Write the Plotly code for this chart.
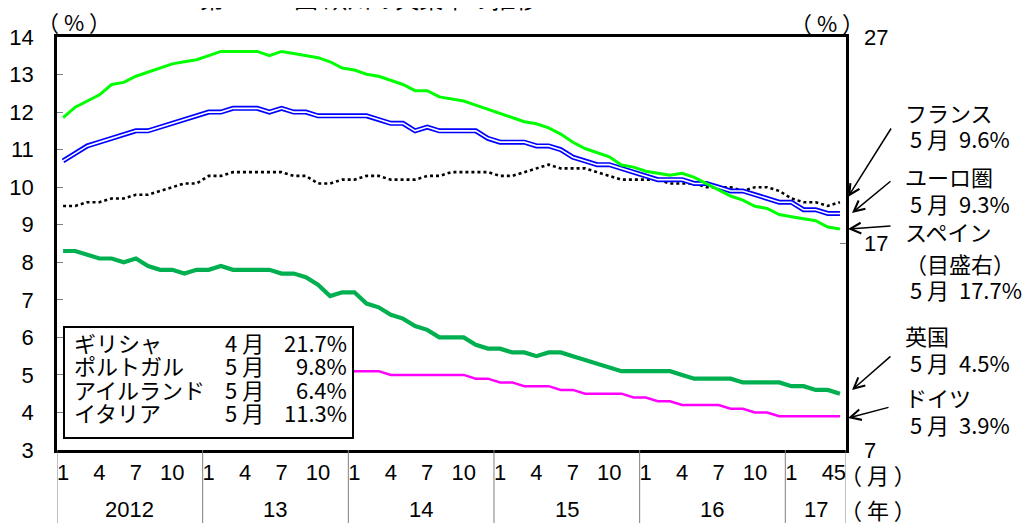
import plotly.graph_objects as go

# ---------------- data ----------------
years = ["2012", "13", "14", "15", "16", "17"]
months_per_year = [12, 12, 12, 12, 12, 5]
month_tick_idx = [0, 3, 6, 9, 12, 15, 18, 21, 24, 27, 30, 33, 36, 39, 42, 45, 48, 51, 54, 57, 60, 63, 64]
month_tick_text = ["1", "4", "7", "10", "1", "4", "7", "10", "1", "4", "7", "10",
                   "1", "4", "7", "10", "1", "4", "7", "10", "1", "4", "5"]

spain = [23.1, 23.6, 23.9, 24.2, 24.7, 24.8, 25.1, 25.3, 25.5, 25.7, 25.8, 25.9,
         26.1, 26.3, 26.3, 26.3, 26.3, 26.1, 26.3, 26.2, 26.1, 26.0, 25.8, 25.5,
         25.4, 25.2, 25.1, 24.9, 24.7, 24.4, 24.4, 24.1, 24.0, 23.9, 23.7, 23.5,
         23.3, 23.1, 22.9, 22.8, 22.6, 22.3, 21.9, 21.6, 21.4, 21.2, 20.8, 20.7,
         20.5, 20.4, 20.3, 20.4, 20.2, 19.9, 19.6, 19.3, 19.1, 18.8, 18.7, 18.4,
         18.3, 18.2, 18.1, 17.8, 17.7]
euro = [10.7, 10.9, 11.1, 11.2, 11.3, 11.4, 11.5, 11.5, 11.6, 11.7, 11.8, 11.9,
        12.0, 12.0, 12.1, 12.1, 12.1, 12.0, 12.1, 12.0, 12.0, 11.9, 11.9, 11.9,
        11.9, 11.9, 11.8, 11.7, 11.7, 11.5, 11.6, 11.5, 11.5, 11.5, 11.5, 11.3,
        11.2, 11.2, 11.2, 11.1, 11.1, 11.0, 10.8, 10.7, 10.6, 10.6, 10.5, 10.4,
        10.3, 10.2, 10.2, 10.2, 10.1, 10.1, 10.0, 9.9, 9.9, 9.8, 9.7, 9.6,
        9.6, 9.4, 9.4, 9.3, 9.3]
france = [9.5, 9.5, 9.6, 9.6, 9.7, 9.7, 9.8, 9.8, 9.9, 10.0, 10.1, 10.1,
          10.3, 10.3, 10.4, 10.4, 10.4, 10.4, 10.4, 10.3, 10.3, 10.1, 10.1, 10.2,
          10.2, 10.3, 10.3, 10.2, 10.2, 10.2, 10.3, 10.3, 10.4, 10.4, 10.4, 10.4,
          10.3, 10.3, 10.4, 10.5, 10.6, 10.5, 10.5, 10.5, 10.4, 10.3, 10.2, 10.2,
          10.2, 10.2, 10.1, 10.1, 10.1, 10.0, 10.0, 10.0, 9.9, 10.0, 10.0, 9.9,
          9.7, 9.6, 9.6, 9.5, 9.6]
uk = [8.3, 8.3, 8.2, 8.1, 8.1, 8.0, 8.1, 7.9, 7.8, 7.8, 7.7, 7.8,
      7.8, 7.9, 7.8, 7.8, 7.8, 7.8, 7.7, 7.7, 7.6, 7.4, 7.1, 7.2,
      7.2, 6.9, 6.8, 6.6, 6.5, 6.3, 6.2, 6.0, 6.0, 6.0, 5.8, 5.7,
      5.7, 5.6, 5.6, 5.5, 5.6, 5.6, 5.5, 5.4, 5.3, 5.2, 5.1, 5.1,
      5.1, 5.1, 5.1, 5.0, 4.9, 4.9, 4.9, 4.9, 4.8, 4.8, 4.8, 4.8,
      4.7, 4.7, 4.6, 4.6, 4.5]
germany = [5.5, 5.5, 5.5, 5.4, 5.4, 5.4, 5.4, 5.4, 5.4, 5.4, 5.4, 5.4,
           5.4, 5.4, 5.4, 5.3, 5.3, 5.3, 5.3, 5.2, 5.2, 5.2, 5.2, 5.1,
           5.1, 5.1, 5.1, 5.0, 5.0, 5.0, 5.0, 5.0, 5.0, 5.0, 4.9, 4.9,
           4.8, 4.8, 4.7, 4.7, 4.7, 4.6, 4.6, 4.5, 4.5, 4.5, 4.5, 4.4,
           4.4, 4.3, 4.3, 4.2, 4.2, 4.2, 4.2, 4.1, 4.1, 4.0, 4.0, 3.9,
           3.9, 3.9, 3.9, 3.9, 3.9]

box_names = ["ギリシャ", "ポルトガル", "アイルランド", "イタリア"]
box_months = ["4 月", "5 月", "5 月", "5 月"]
box_values = ["21.7%", "9.8%", "6.4%", "11.3%"]

right_labels = [("フランス", " 5 月  9.6%"), ("ユーロ圏", " 5 月  9.3%"),
                ("スペイン", "（目盛右）", " 5 月  17.7%"), ("英国", " 5 月  4.5%"),
                ("ドイツ", " 5 月  3.9%")]

x = list(range(len(euro)))

# ---------------- geometry (pixels, in screenshot coordinates) ----------------
OFF = 8                     # page body margin
W, H = 1030 - OFF, 523 - OFF
X0, X1, Y0, Y1 = 57, 846, 37, 450   # plot area in screenshot pixels
L, T = X0 - OFF, Y0 - OFF
R, B = W - (X1 - OFF), H - (Y1 - OFF)
PW, PH = X1 - X0, Y1 - Y0


def px(xp):
    return (xp - X0) / PW


def py(yp):
    return (Y1 - yp) / PH


JP = "Noto Sans CJK JP"
LAT = "Liberation Sans"
JPS = 22
LS = 22

fig = go.Figure()
fig.add_trace(go.Scatter(x=x, y=germany, mode="lines", line=dict(color="#FF00FF", width=2.5), showlegend=False))
fig.add_trace(go.Scatter(x=x, y=uk, mode="lines", line=dict(color="#00B050", width=4.2), showlegend=False))
fig.add_trace(go.Scatter(x=x, y=france, mode="lines", line=dict(color="black", width=2.6, dash="dot"), showlegend=False))
fig.add_trace(go.Scatter(x=x, y=euro, mode="lines", line=dict(color="#0000FF", width=5), showlegend=False))
fig.add_trace(go.Scatter(x=x, y=euro, mode="lines", line=dict(color="white", width=1.6), showlegend=False))
fig.add_trace(go.Scatter(x=x, y=spain, mode="lines", line=dict(color="#00FF00", width=3), yaxis="y2", showlegend=False))

shapes = []
# year separators below the axis
b = -0.5
bounds = [b]
for n in months_per_year:
    b += n
    bounds.append(b)
for bx in bounds:
    shapes.append(dict(type="line", xref="x", yref="paper", x0=bx, x1=bx, y0=0, y1=-B / PH,
                       line=dict(color="#808080", width=1)))
# legend box (white, covering lines)
shapes.append(dict(type="rect", xref="paper", yref="paper", x0=px(64), x1=px(353), y0=py(438), y1=py(327),
                   fillcolor="white", line=dict(color="black", width=2), layer="above"))

ann = []
# title (cropped at top)
ann.append(dict(text="第1-1-12図 欧州の失業率の推移", xref="paper", yref="paper", x=px(198), y=py(17),
                xanchor="left", yanchor="bottom", showarrow=False, font=dict(family=JP, size=24, color="black")))
# year labels
start = 0
for yr, n in zip(years, months_per_year):
    ann.append(dict(text=yr, xref="x", yref="paper", x=start + (n - 1) / 2, y=py(509), yanchor="middle",
                    showarrow=False, font=dict(family=LAT, size=LS, color="black")))
    start += n
ann.append(dict(text="（ 月 ）", xref="paper", yref="paper", x=px(838), y=py(474), xanchor="left", yanchor="middle",
                showarrow=False, font=dict(family=JP, size=22, color="black")))
ann.append(dict(text="（ 年 ）", xref="paper", yref="paper", x=px(838), y=py(509), xanchor="left", yanchor="middle",
                showarrow=False, font=dict(family=JP, size=22, color="black")))
ann.append(dict(text="（ % ）", xref="paper", yref="paper", x=px(35), y=py(21), xanchor="left", yanchor="middle",
                showarrow=False, font=dict(family=JP, size=22, color="black")))
ann.append(dict(text="（ % ）", xref="paper", yref="paper", x=px(788), y=py(22), xanchor="left", yanchor="middle",
                showarrow=False, font=dict(family=JP, size=22, color="black")))
# legend box text
row_y = [342, 365, 389, 412]
for nm, mo, va, ry in zip(box_names, box_months, box_values, row_y):
    ann.append(dict(text=nm, xref="paper", yref="paper", x=px(72), y=py(ry), xanchor="left", yanchor="middle",
                    showarrow=False, font=dict(family=JP, size=JPS, color="black")))
    ann.append(dict(text=mo, xref="paper", yref="paper", x=px(223), y=py(ry), xanchor="left", yanchor="middle",
                    showarrow=False, font=dict(family=JP, size=JPS, color="black")))
    ann.append(dict(text=va, xref="paper", yref="paper", x=px(349), y=py(ry), xanchor="right", yanchor="middle",
                    showarrow=False, font=dict(family=JP, size=JPS, color="black")))
# right-side labels
label_rows = [[112, 138], [176, 203], [231, 263, 289], [335, 362], [397, 424]]
for lines, ys in zip(right_labels, label_rows):
    for t, yy in zip(lines, ys):
        ann.append(dict(text=t, xref="paper", yref="paper", x=px(903), y=py(yy), xanchor="left", yanchor="middle",
                        showarrow=False, font=dict(family=JP, size=JPS, color="black")))
# arrows: tip (x, y) and tail (x, y) in screenshot pixels
arrows = [((848, 197), (892, 127)), ((852, 213), (892, 180)), ((848, 229), (892, 226)),
          ((852, 390), (892, 355)), ((848, 418), (890, 407))]
for (tx, ty), (sx, sy) in arrows:
    ann.append(dict(text="", xref="paper", yref="paper", x=px(tx), y=py(ty), ax=sx - tx, ay=sy - ty,
                    showarrow=True, arrowhead=5, arrowsize=1.4, arrowwidth=1.5, arrowcolor="black"))

fig.update_layout(
    width=W, height=H,
    margin=dict(l=L, r=R, t=T, b=B, autoexpand=False),
    paper_bgcolor="white", plot_bgcolor="white",
    shapes=shapes, annotations=ann,
    xaxis=dict(range=[-0.5, 64.5], tickvals=month_tick_idx, ticktext=month_tick_text, ticks="", tickangle=0,
               automargin=False,
               showline=True, linecolor="black", linewidth=2.5, mirror=True, showgrid=False, zeroline=False,
               tickfont=dict(family=LAT, size=LS, color="black"), ticklabelstandoff=1),
    yaxis=dict(range=[3, 14], dtick=1, ticks="inside", ticklen=6, tickcolor="#808080", tickwidth=1,
               automargin=False,
               showline=True, linecolor="black", linewidth=2.5, mirror=True, showgrid=False, zeroline=False,
               tickfont=dict(family=LAT, size=LS, color="black"), ticklabelstandoff=16),
    yaxis2=dict(range=[7, 27], overlaying="y", side="right", tickvals=[7, 17, 27], ticks="inside", ticklen=6,
                automargin=False,
                tickcolor="#808080", tickwidth=1, showline=False, showgrid=False, zeroline=False,
                tickfont=dict(family=LAT, size=LS, color="black"), ticklabelstandoff=17),
)

fig.write_html("out.html")
